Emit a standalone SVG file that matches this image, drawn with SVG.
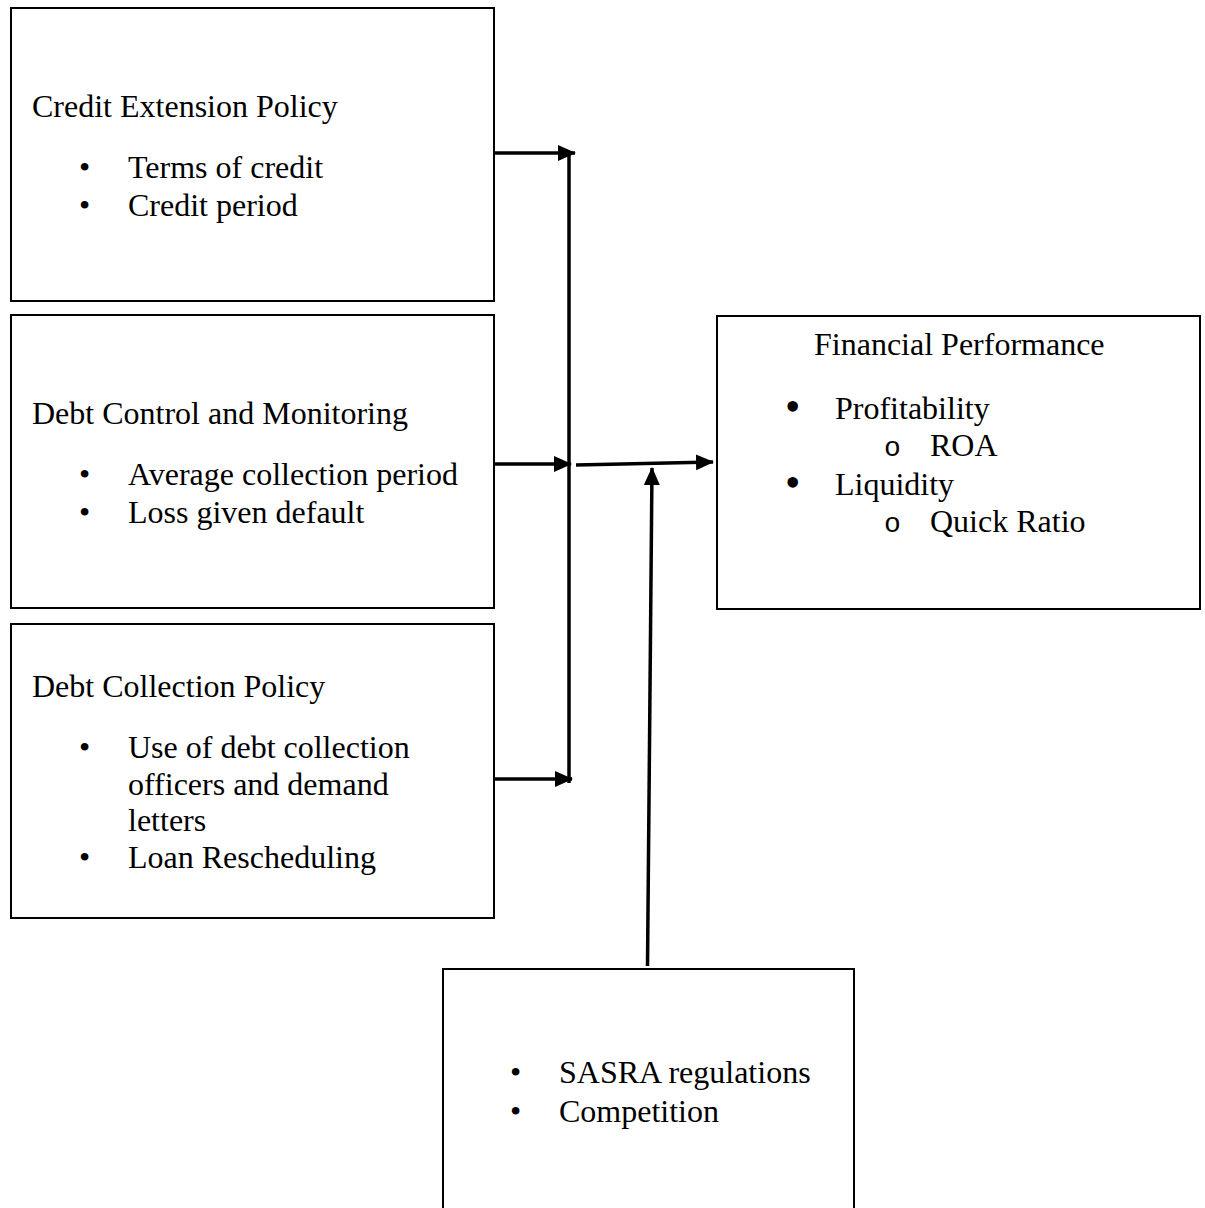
<svg xmlns="http://www.w3.org/2000/svg" width="1205" height="1208" viewBox="0 0 1205 1208">
<defs>
<marker id="ah" markerUnits="userSpaceOnUse" markerWidth="18" markerHeight="18" viewBox="0 0 18 18" refX="17" refY="9" orient="auto">
<path d="M0,1 L18,9 L0,17 Z" fill="#000"/>
</marker>
</defs>
<style>
.box{fill:#fff;stroke:#000;stroke-width:2}
.t{font-family:"Liberation Serif","Times New Roman",serif;font-size:32px;fill:#000}
.b{font-family:"Liberation Serif","Times New Roman",serif;font-size:32px;fill:#000}
.o{font-family:"Liberation Mono","Courier New",monospace;font-size:28px;fill:#000}
.c{fill:none;stroke:#000;stroke-width:3.5}
</style>
<rect width="1205" height="1208" fill="#fff"/>
<g id="credit-extension">
<rect class="box" x="11" y="8" width="483" height="293"/>
<text class="t" x="32" y="117">Credit Extension Policy</text>
<text class="b" x="79" y="178">•</text><text class="t" x="128" y="178">Terms of credit</text>
<text class="b" x="79" y="216">•</text><text class="t" x="128" y="216">Credit period</text>
</g>
<g id="debt-control">
<rect class="box" x="11" y="315" width="483" height="293"/>
<text class="t" x="32" y="424">Debt Control and Monitoring</text>
<text class="b" x="79" y="485">•</text><text class="t" x="128" y="485">Average collection period</text>
<text class="b" x="79" y="523">•</text><text class="t" x="128" y="523">Loss given default</text>
</g>
<g id="debt-collection">
<rect class="box" x="11" y="624" width="483" height="294"/>
<text class="t" x="32" y="697">Debt Collection Policy</text>
<text class="b" x="79" y="758">•</text><text class="t" x="128" y="758">Use of debt collection</text>
<text class="t" x="128" y="795">officers and demand</text>
<text class="t" x="128" y="831">letters</text>
<text class="b" x="79" y="868">•</text><text class="t" x="128" y="868">Loan Rescheduling</text>
</g>
<g id="financial-performance">
<rect class="box" x="717" y="316" width="483" height="293"/>
<text class="t" x="814" y="355">Financial Performance</text>
<text class="b" x="785" y="421" style="font-size:44px">•</text><text class="t" x="835" y="419">Profitability</text>
<text class="o" x="884" y="456">o</text><text class="t" x="930" y="456">ROA</text>
<text class="b" x="785" y="497" style="font-size:44px">•</text><text class="t" x="835" y="495">Liquidity</text>
<text class="o" x="884" y="532">o</text><text class="t" x="930" y="532">Quick Ratio</text>
</g>
<g id="moderators">
<rect class="box" x="443" y="969" width="411" height="250"/>
<text class="b" x="510" y="1083">•</text><text class="t" x="559" y="1083">SASRA regulations</text>
<text class="b" x="510" y="1122">•</text><text class="t" x="559" y="1122">Competition</text>
</g>
<g id="connectors">
<line class="c" x1="569" y1="153" x2="569" y2="783"/>
<line class="c" x1="494" y1="153" x2="575" y2="153" marker-end="url(#ah)"/>
<line class="c" x1="494" y1="464" x2="571" y2="464" marker-end="url(#ah)"/>
<line class="c" x1="494" y1="779" x2="572" y2="779" marker-end="url(#ah)"/>
<line class="c" x1="576" y1="465" x2="713" y2="462" marker-end="url(#ah)"/>
<line class="c" x1="647.5" y1="966" x2="652" y2="468" marker-end="url(#ah)"/>
</g>
</svg>
